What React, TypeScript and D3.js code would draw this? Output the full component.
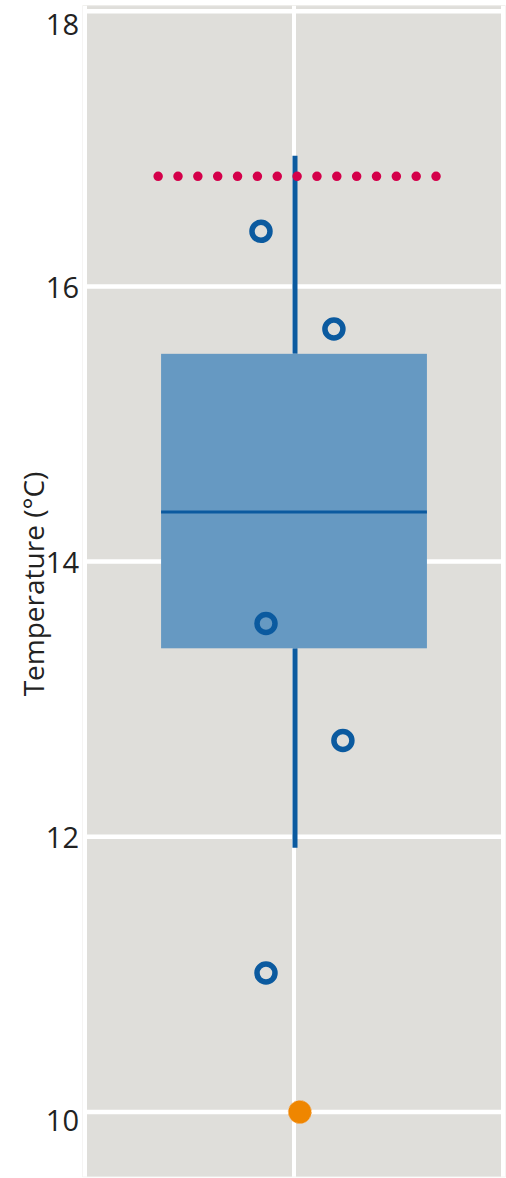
import React from "react";
import * as d3 from "d3";

const yTicks = [10, 12, 14, 16, 18];
const boxStats = { q1: 13.37, median: 14.36, q3: 15.51, low: 11.92, high: 16.95 };
const pointValues = [16.4, 15.69, 13.55, 12.7, 11.01];
const pointJitter = [-0.158, 0.191, -0.134, 0.234, -0.134];
const highlightValue = [10.0];
const highlightJitter = [0.028];
const referenceValue = [16.8];

const W = 506;
const H = 1178;

export default function App() {
  const y = d3.scaleLinear().domain([10, 18]).range([1112, 11.2]);
  const x = d3.scaleLinear().domain([-1, 1]).range([85, 503]);
  const panelTop = y(18.04);
  const panelBottom = y(9.53);
  const boxHalf = 0.636;
  const font = "'Open Sans', 'Noto Sans', sans-serif";
  const blue = "#0b5a9f";

  return (
    <svg width={W} height={H} style={{ position: "absolute", left: 0, top: 0 }} fontFamily={font}>
      <rect x={x(-1) - 2} y={panelTop} width={x(1) - x(-1) + 4} height={panelBottom - panelTop} fill="#dfdeda" stroke="#ebeae7" strokeWidth={1} />
      {yTicks.map((t) => (
        <line key={"g" + t} x1={x(-1)} x2={x(1)} y1={y(t)} y2={y(t)} stroke="#ffffff" strokeWidth={4.5} />
      ))}
      {[-1, 0, 1].map((v) => (
        <line key={"v" + v} x1={x(v)} x2={x(v)} y1={panelTop} y2={panelBottom} stroke="#ffffff" strokeWidth={4} />
      ))}
      {yTicks.map((t, i) => {
        let dy = 0;
        if (i === 0) dy = 7;
        if (i === yTicks.length - 1) dy = 12;
        return (
          <text key={"t" + t} x={79} y={y(t) + dy} textAnchor="end" dominantBaseline="central" fontSize={29} fill="#222">
            {t}
          </text>
        );
      })}
      <text transform={`translate(33,${584}) rotate(-90)`} textAnchor="middle" dominantBaseline="central" fontSize={28} fill="#222">
        Temperature (°C)
      </text>
      {/* whiskers */}
      <line x1={x(0) + 1} x2={x(0) + 1} y1={y(boxStats.high)} y2={y(boxStats.q3)} stroke={blue} strokeWidth={5} />
      <line x1={x(0) + 1} x2={x(0) + 1} y1={y(boxStats.q1)} y2={y(boxStats.low)} stroke={blue} strokeWidth={5} />
      {/* box */}
      <rect x={x(-boxHalf)} y={y(boxStats.q3)} width={x(boxHalf) - x(-boxHalf)} height={y(boxStats.q1) - y(boxStats.q3)} fill="#6699c2" />
      <line x1={x(-boxHalf)} x2={x(boxHalf)} y1={y(boxStats.median)} y2={y(boxStats.median)} stroke={blue} strokeWidth={3} />
      {/* reference dotted line */}
      {referenceValue.map((v, i) => (
        <line key={"r" + i} x1={x(-0.65)} x2={x(0.685)} y1={y(v)} y2={y(v)} stroke="#d4004a" strokeWidth={9.5} strokeLinecap="round" strokeDasharray="0 19.85" />
      ))}
      {pointValues.map((v, i) => (
        <circle key={"p" + i} cx={x(pointJitter[i])} cy={y(v)} r={9} fill="none" stroke={blue} strokeWidth={5.5} />
      ))}
      {highlightValue.map((v, i) => (
        <circle key={"h" + i} cx={x(highlightJitter[i])} cy={y(v)} r={11.5} fill="#ef8600" stroke="#f5b066" strokeWidth={1} strokeDasharray="2 2" />
      ))}
    </svg>
  );
}
